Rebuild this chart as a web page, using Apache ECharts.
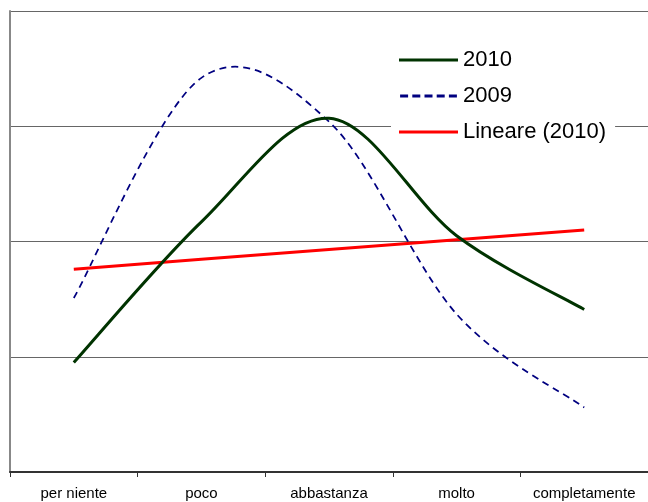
<!DOCTYPE html>
<html>
<head>
<meta charset="utf-8">
<script src="https://cdn.jsdelivr.net/npm/echarts@6/dist/echarts.min.js"></script>
<style>
  html, body { margin: 0; padding: 0; background: #fff; }
  #main { width: 648px; height: 502px; }
</style>
</head>
<body>
<div id="main"></div>
<script>
// categorie asse X
var categorie = ['per niente', 'poco', 'abbastanza', 'molto', 'completamente'];
// valori
var serie2010 = [0.95, 2.17, 3.07, 2.05, 1.41];
var serie2009 = [1.51, 3.42, 3.04, 1.37, 0.56];
// linea di tendenza (Lineare 2010)
var lineare2010 = [1.76, 1.845, 1.93, 2.015, 2.10];

var chart = echarts.init(document.getElementById('main'));
var font = '"Liberation Sans", Arial, sans-serif';

/**
 * curva "smussata" stile Excel (catmull-rom) passando per i punti dell'asse
 */
function makeCurve(api, arr, smooth) {
    var pts = arr.map(function (v, i) { return api.coord([i, v]); });
    var n = pts.length;
    var d = 'M' + pts[0][0] + ',' + pts[0][1];
    for (var i = 0; i < n - 1; i++) {
        if (!smooth) {
            d += ' L' + pts[i + 1][0] + ',' + pts[i + 1][1];
            continue;
        }
        var p0 = pts[Math.max(i - 1, 0)];
        var p1 = pts[i];
        var p2 = pts[i + 1];
        var p3 = pts[Math.min(i + 2, n - 1)];
        var c1x = p1[0] + (p2[0] - p0[0]) / 6;
        var c1y = p1[1] + (p2[1] - p0[1]) / 6;
        var c2x = p2[0] - (p3[0] - p1[0]) / 6;
        var c2y = p2[1] - (p3[1] - p1[1]) / 6;
        d += ' C' + c1x + ',' + c1y + ' ' + c2x + ',' + c2y + ' ' + p2[0] + ',' + p2[1];
    }
    return d;
}

function curveSeries(name, arr, color, width, dash, smooth, z) {
    return {
        name: name,
        type: 'custom',
        z: z,
        itemStyle: { color: color },
        encode: { x: 0, y: 1 },
        data: arr.map(function (v, i) { return [i, v]; }),
        renderItem: function (params, api) {
            if (params.dataIndex !== 0) return { type: 'group', children: [] };
            return {
                type: 'path',
                shape: { pathData: makeCurve(api, arr, smooth) },
                style: {
                    fill: null,
                    stroke: color,
                    lineWidth: width,
                    lineDash: dash,
                    lineCap: 'butt',
                    lineJoin: 'round'
                }
            };
        }
    };
}

var option = {
    animation: false,
    backgroundColor: '#fff',
    grid: {
        left: 10,
        top: 11,
        right: -5,
        bottom: 30
    },
    legend: {
        orient: 'vertical',
        left: 391,
        top: 45,
        padding: [4, 9, 4, 8],
        backgroundColor: '#fff',
        itemWidth: 59,
        itemHeight: 3,
        itemGap: 14,
        textStyle: { fontFamily: font, fontSize: 22, color: '#000' },
        data: [
            { name: '2010', icon: 'rect' },
            { name: '2009', icon: 'path://M0,0h8v3h-8z M12.2,0h8v3h-8z M24.4,0h8v3h-8z M36.6,0h8v3h-8z M48.8,0h8v3h-8z' },
            { name: 'Lineare (2010)', icon: 'rect' }
        ]
    },
    xAxis: {
        type: 'category',
        data: categorie,
        boundaryGap: true,
        axisLine: { lineStyle: { color: '#333', width: 2 } },
        axisTick: { show: true, length: 5, lineStyle: { color: '#333' } },
        axisLabel: { fontFamily: font, fontSize: 15, color: '#000', margin: 14, interval: 0 }
    },
    yAxis: {
        type: 'value',
        min: 0,
        max: 4,
        interval: 1,
        axisLabel: { show: false },
        axisTick: { show: false },
        axisLine: { show: true, lineStyle: { color: '#888', width: 2 } },
        splitLine: { lineStyle: { color: '#666', width: 1 } }
    },
    series: [
        curveSeries('2010', serie2010, '#003300', 3, null, true, 3),
        curveSeries('2009', serie2009, '#000080', 1.75, [7, 5], true, 2),
        curveSeries('Lineare (2010)', lineare2010, '#ff0000', 3, null, false, 1)
    ]
};

chart.setOption(option);
</script>
</body>
</html>
